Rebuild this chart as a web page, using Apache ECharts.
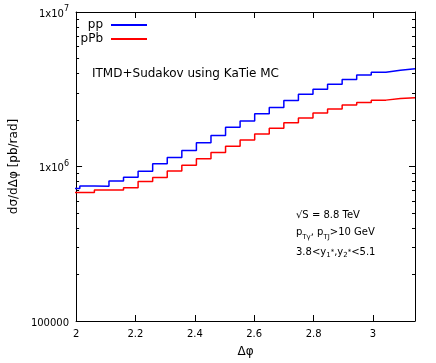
<!DOCTYPE html>
<html>
<head>
<meta charset="utf-8">
<script src="https://cdn.jsdelivr.net/npm/echarts@6/dist/echarts.min.js"></script>
<style>html,body{margin:0;padding:0;background:#fff;}#c{width:436px;height:363px;}</style>
</head>
<body>
<div id="c"></div>
<script>
// Bin edges (Δφ), 64 bins over [0, π], visible part
const binEdges = [1.9635, 2.0126, 2.0617, 2.1108, 2.1598, 2.2089, 2.2580, 2.3071, 2.3562, 2.4053,
  2.4544, 2.5035, 2.5525, 2.6016, 2.6507, 2.6998, 2.7489, 2.7980, 2.8471, 2.8962, 2.9452,
  2.9943, 3.0434, 3.0925, 3.1416];
// dσ/dΔφ [pb/rad] per bin
const ppValues = [719700, 748000, 745000, 804500, 851000, 931000, 1042400, 1144200, 1269100, 1426700,
  1584900, 1797500, 1970200, 2195600, 2413500, 2669300, 2939300, 3164600, 3407700, 3659200,
  3905300, 4070600, 4192900, 4299900];
const pPbValues = [678500, 678500, 704100, 704100, 727500, 798400, 849900, 935600, 1019400, 1122400,
  1233900, 1350600, 1482800, 1625300, 1771100, 1921100, 2059800, 2218400, 2353500, 2497000,
  2599000, 2689100, 2757500, 2790400];
const xTicks = [2, 2.2, 2.4, 2.6, 2.8, 3];
const yMajorTicks = [100000, 1000000, 10000000];
const yMinorTicks = [200000, 300000, 400000, 500000, 600000, 700000, 800000, 900000,
  2000000, 3000000, 4000000, 5000000, 6000000, 7000000, 8000000, 9000000];

function stepData(vals) {
  return binEdges.map((e, i) => [e, vals[Math.min(i, vals.length - 1)]]);
}

const FONT = 'DejaVu Sans';
const chart = echarts.init(document.getElementById('c'), null, {renderer: 'canvas'});

function yAxisBase(pos, ticks, len, labels) {
  return {
    type: 'log', logBase: 10, min: 1e5, max: 1e7, position: pos,
    axisLine: {show: labels, lineStyle: {color: '#000', width: 1}},
    splitLine: {show: false},
    axisTick: {show: true, inside: true, length: len, customValues: ticks, lineStyle: {color: '#000', width: 1}},
    axisLabel: labels ? {
      show: true, margin: 7, customValues: yMajorTicks, fontFamily: FONT, fontSize: 10, color: '#000',
      formatter: function (v) {
        const e = Math.round(Math.log10(v));
        if (e === 5) return '{b|100000}';
        return '{b|1x10}{s|' + e + '}';
      },
      rich: {
        b: {fontFamily: FONT, fontSize: 10, color: '#000', verticalAlign: 'bottom', lineHeight: 14},
        s: {fontFamily: FONT, fontSize: 8, color: '#000', verticalAlign: 'top', lineHeight: 14, padding: [0, 0, 6, 0]}
      }
    } : {show: false}
  };
}

const yAxes = [
  Object.assign(yAxisBase('left', yMajorTicks, 6, true), {
    name: 'dσ/dΔφ [pb/rad]', nameLocation: 'middle', nameRotate: 90, nameGap: 55,
    nameTextStyle: {fontFamily: FONT, fontSize: 12, color: '#000'}
  }),
  yAxisBase('left', yMinorTicks, 3, false),
  Object.assign(yAxisBase('right', yMajorTicks, 6, false), {axisLine: {show: true, lineStyle: {color: '#000', width: 1}}}),
  yAxisBase('right', yMinorTicks, 3, false)
];

function xAxisBase(pos, labels) {
  return {
    type: 'value', min: 2, max: Math.PI, position: pos,
    axisLine: {show: true, onZero: false, lineStyle: {color: '#000', width: 1}},
    splitLine: {show: false},
    axisTick: {show: true, inside: true, length: 6, customValues: xTicks, lineStyle: {color: '#000', width: 1}},
    axisLabel: labels ? {show: true, margin: 8, customValues: xTicks, fontFamily: FONT, fontSize: 10, color: '#000'} : {show: false}
  };
}

const legendBase = {orient: 'vertical', align: 'right', right: 289, padding: 0, icon: 'rect',
  itemWidth: 36, itemHeight: 2, textStyle: {fontFamily: FONT, fontSize: 12, color: '#000', padding: [0, 3, 0, 0]}};

const option = {
  backgroundColor: '#fff',
  animation: false,
  grid: {left: 74, right: 21, top: 12, bottom: 40, containLabel: false},
  xAxis: [
    Object.assign(xAxisBase('bottom', true), {
      name: 'Δφ', nameLocation: 'middle', nameGap: 25,
      nameTextStyle: {fontFamily: FONT, fontSize: 12, color: '#000'}
    }),
    xAxisBase('top', false)
  ],
  yAxis: yAxes,
  legend: [
    Object.assign({data: [{name: 'pp', itemStyle: {color: '#0000ff'}}], top: 19}, legendBase),
    Object.assign({data: [{name: 'pPb', itemStyle: {color: '#ff0000'}}], top: 33}, legendBase)
  ],
  title: [
    {text: 'ITMD+Sudakov using KaTie MC', left: 92, top: 68, padding: 0,
     textStyle: {fontFamily: FONT, fontSize: 12, fontWeight: 'normal', color: '#000'}},
    {text: '√S = 8.8 TeV', left: 296, top: 210, padding: 0,
     textStyle: {fontFamily: FONT, fontSize: 10, fontWeight: 'normal', color: '#000'}},
    {text: '{n|p}{u|Tγ}{n|, p}{u|TJ}{n|>10 GeV}', left: 296, top: 227, padding: 0,
     textStyle: {fontFamily: FONT, fontSize: 10, fontWeight: 'normal', color: '#000',
       rich: {
         n: {fontFamily: FONT, fontSize: 10, color: '#000', lineHeight: 14, verticalAlign: 'top'},
         u: {fontFamily: FONT, fontSize: 7, color: '#000', lineHeight: 14, verticalAlign: 'bottom'}
       }}},
    {text: '{n|3.8<y}{u|1}{s|*}{n|,y}{u|2}{s|*}{n|<5.1}', left: 296, top: 245, padding: 0,
     textStyle: {fontFamily: FONT, fontSize: 10, fontWeight: 'normal', color: '#000',
       rich: {
         n: {fontFamily: FONT, fontSize: 10, color: '#000', lineHeight: 14, verticalAlign: 'middle'},
         u: {fontFamily: FONT, fontSize: 7, color: '#000', lineHeight: 14, verticalAlign: 'bottom'},
         s: {fontFamily: FONT, fontSize: 7, color: '#000', lineHeight: 10, verticalAlign: 'middle'}
       }}}
  ],
  series: [
    {name: 'pp', type: 'line', step: 'end', symbol: 'none', clip: true, xAxisIndex: 0, yAxisIndex: 0,
     data: stepData(ppValues), lineStyle: {color: '#0000ff', width: 1.5}, itemStyle: {color: '#0000ff'}},
    {name: 'pPb', type: 'line', step: 'end', symbol: 'none', clip: true, xAxisIndex: 0, yAxisIndex: 0,
     data: stepData(pPbValues), lineStyle: {color: '#ff0000', width: 1.5}, itemStyle: {color: '#ff0000'}}
  ]
};
chart.setOption(option);
</script>
</body>
</html>
